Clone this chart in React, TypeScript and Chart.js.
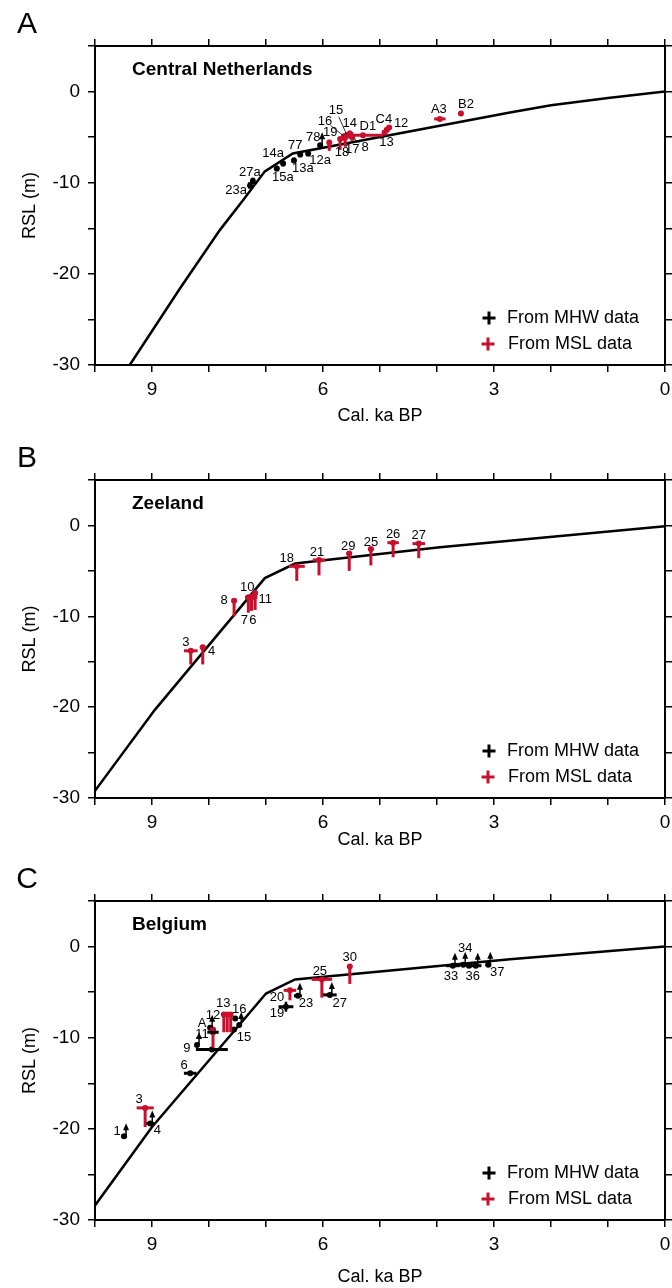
import React, { useEffect, useRef } from 'react';
import { Chart, registerables } from 'chart.js';

Chart.register(...registerables);

const FONT = "'Liberation Sans', Arial, Helvetica, sans-serif";
const RED = '#c8102e';
const BLACK = '#000000';

// ---- axes ----
const X_MIN = 0;
const X_MAX = 10;
const X_LABELED_TICKS = [9, 6, 3, 0];
const Y_MIN = -30;
const Y_MAX = 5;
const Y_LABELED_TICKS = [0, -10, -20, -30];
const X_TITLE = 'Cal. ka BP';
const Y_TITLE = 'RSL (m)';
const LEGEND_MHW = 'From MHW data';
const LEGEND_MSL = 'From MSL data';

// point tuples: [label, age (ka), RSL (m), age error (ka), depth error below (m), depth error above (m)]
type MslPoint = [string, number, number, number, number, number];
// MHW tuples add a last flag: 1 = limiting (arrow up)
type MhwPoint = [string, number, number, number, number, number, number];

// ---- Panel A: Central Netherlands ----
const A_TITLE = 'Central Netherlands';
const A_CURVE_AGE = [9.39, 8.51, 7.81, 7.4, 7.02, 6.53, 2.72, 2.0, 1.0, 0];
const A_CURVE_RSL = [-30, -21.6, -15.2, -11.9, -8.75, -6.8, -2.3, -1.5, -0.7, 0];
const A_MSL: MslPoint[] = [
  ['19', 5.89, -5.6, 0.02, 0.9, 0.2],
  ['18', 5.7, -5.2, 0.03, 1.2, 0],
  ['17', 5.61, -5.05, 0.03, 1.0, 0],
  ['16', 5.63, -4.9, 0.05, 0.5, 0],
  ['15', 5.58, -4.8, 0.05, 0.4, 0],
  ['14', 5.53, -4.6, 0.06, 0.4, 0.2],
  ['8', 5.49, -5.0, 0.05, 0.4, 0],
  ['D1', 5.3, -4.8, 0.35, 0.3, 0.1],
  ['13', 4.92, -4.5, 0.04, 0.3, 0],
  ['C4', 4.88, -4.2, 0.05, 0.3, 0.1],
  ['12', 4.84, -3.95, 0.04, 0.2, 0],
  ['A3', 3.95, -3.0, 0.1, 0.2, 0],
  ['B2', 3.58, -2.4, 0.02, 0.1, 0.1],
];
const A_MHW: MhwPoint[] = [
  ['23a', 7.28, -10.3, 0, 0.35, 0.35, 0],
  ['27a', 7.23, -9.8, 0, 0.35, 0.35, 0],
  ['15a', 6.81, -8.45, 0, 0.3, 0.3, 0],
  ['14a', 6.7, -7.9, 0, 0.3, 0.3, 0],
  ['13a', 6.51, -7.55, 0, 0.3, 0.3, 0],
  ['77', 6.4, -6.9, 0, 0.3, 0.3, 0],
  ['12a', 6.26, -6.8, 0, 0.3, 0.3, 0],
  ['78', 6.05, -5.9, 0.04, 0, 0, 1],
];
const A_LABEL_OFFSETS: Record<string, [number, number]> = {
  '19': [1, -10], '18': [2, 13], '17': [7, 12], '16': [-19, -15], '15': [-11, -25],
  '14': [0, -10], '8': [13, 10], 'D1': [5, -9], '13': [2, 10], 'C4': [-3, -10],
  '12': [12, -4], 'A3': [-1, -9], 'B2': [5, -9],
  '23a': [-14, 5], '27a': [-3, -8], '15a': [6, 9], '14a': [-10, -10], '13a': [9, 8],
  '77': [-5, -9], '12a': [12, 7], '78': [-7, -8],
};
const A_LEADERS = ['15', '16', '8'];

// ---- Panel B: Zeeland ----
const B_TITLE = 'Zeeland';
const B_CURVE_AGE = [10, 8.95, 7.02, 6.49, 3.95, 0];
const B_CURVE_RSL = [-29.2, -20.3, -5.8, -4.2, -2.4, -0.1];
const B_MSL: MslPoint[] = [
  ['3', 8.32, -13.8, 0.12, 1.5, 0],
  ['4', 8.11, -13.4, 0.05, 1.9, 0],
  ['8', 7.56, -8.3, 0.04, 1.7, 0],
  ['7', 7.31, -7.9, 0.02, 1.7, 0],
  ['10', 7.26, -7.9, 0.11, 1.5, 0],
  ['6', 7.25, -7.9, 0.02, 1.45, 0],
  ['11', 7.19, -7.45, 0.05, 1.85, 0],
  ['18', 6.46, -4.5, 0.14, 1.6, 0],
  ['21', 6.07, -3.8, 0.11, 1.7, 0],
  ['29', 5.54, -3.1, 0.05, 1.9, 0],
  ['25', 5.16, -2.6, 0.05, 1.8, 0],
  ['26', 4.77, -1.9, 0.1, 1.6, 0],
  ['27', 4.32, -2.0, 0.11, 1.6, 0],
];
const B_MHW: MhwPoint[] = [];
const B_LABEL_OFFSETS: Record<string, [number, number]> = {
  '3': [-5, -8], '4': [9, 4], '8': [-10, 0], '7': [-4, 23], '10': [-4, -10], '6': [1, 23],
  '11': [10, 6], '18': [-10, -8], '21': [-2, -8], '29': [-1, -7], '25': [0, -7],
  '26': [0, -8], '27': [0, -8],
};
const B_LEADERS: string[] = [];

// ---- Panel C: Belgium ----
const C_TITLE = 'Belgium';
const C_CURVE_AGE = [10, 9.0, 7.51, 7.0, 6.49, 2.72, 0];
const C_CURVE_RSL = [-28.4, -19.8, -8.9, -5.15, -3.6, -1.4, 0];
const C_MSL: MslPoint[] = [
  ['3', 9.12, -17.7, 0.15, 2.1, 0],
  ['12', 7.93, -9.1, 0.05, 2.0, 0],
  ['', 7.74, -7.45, 0.02, 1.95, 0],
  ['13', 7.68, -7.45, 0.09, 1.95, 0],
  ['', 7.62, -7.45, 0.02, 1.95, 0],
  ['20', 6.58, -4.8, 0.11, 1.1, 0],
  ['25', 6.02, -3.6, 0.18, 2.0, 0],
  ['30', 5.53, -2.2, 0.04, 1.9, 0],
];
const C_MHW: MhwPoint[] = [
  ['1', 9.49, -20.8, 0.05, 0, 0, 1],
  ['4', 9.03, -19.4, 0.07, 0, 0, 1],
  ['6', 8.33, -13.9, 0.11, 0, 0, 0],
  ['', 8.21, -10.8, 0, 0, 0, 1],
  ['9', 7.95, -11.3, 0.28, 0, 0, 0],
  ['11', 7.93, -9.4, 0.1, 0, 0, 0],
  ['A', 7.98, -8.9, 0, 0, 0, 1],
  ['16', 7.54, -7.9, 0, 0, 0, 0],
  ['', 7.47, -8.6, 0, 0, 0, 1],
  ['15', 7.56, -9.1, 0, 0, 0, 0],
  ['19', 6.65, -6.6, 0.13, 0.55, 0.55, 0],
  ['23', 6.44, -5.4, 0.07, 0, 0, 1],
  ['27', 5.88, -5.3, 0.12, 0, 0, 1],
  ['33', 3.72, -2.1, 0.12, 0, 0, 1],
  ['34', 3.54, -2.0, 0.1, 0, 0, 1],
  ['', 3.44, -2.1, 0.05, 0, 0, 0],
  ['36', 3.32, -2.1, 0.1, 0, 0, 1],
  ['37', 3.1, -2.0, 0.05, 0, 0, 1],
];
const C_LABEL_OFFSETS: Record<string, [number, number]> = {
  '3': [-6, -8], '12': [0, -14], '13': [-4, -11], '20': [-13, 7], '25': [-2, -8], '30': [0, -9],
  '1': [-7, -5], '4': [7, 7], '6': [-6, -8], '9': [-25, -1], '11': [-11, 2], 'A': [-8, -4],
  '16': [4, -9], '15': [10, 8], '19': [-9, 7], '23': [8, 8], '27': [10, 9],
  '33': [-2, 11], '34': [2, -16], '36': [-3, 11], '37': [9, 8],
};
const C_LEADERS: string[] = [];

interface PanelCfg {
  letter: string;
  title: string;
  curveAge: number[];
  curveRsl: number[];
  msl: MslPoint[];
  mhw: MhwPoint[];
  offsets: Record<string, [number, number]>;
  leaders: string[];
  top: number;
  height: number;
  xTitlePad: number;
}

const PANELS: PanelCfg[] = [
  { letter: 'A', title: A_TITLE, curveAge: A_CURVE_AGE, curveRsl: A_CURVE_RSL, msl: A_MSL, mhw: A_MHW, offsets: A_LABEL_OFFSETS, leaders: A_LEADERS, top: 0, height: 433, xTitlePad: 6 },
  { letter: 'B', title: B_TITLE, curveAge: B_CURVE_AGE, curveRsl: B_CURVE_RSL, msl: B_MSL, mhw: B_MHW, offsets: B_LABEL_OFFSETS, leaders: B_LEADERS, top: 434, height: 432, xTitlePad: 15 },
  { letter: 'C', title: C_TITLE, curveAge: C_CURVE_AGE, curveRsl: C_CURVE_RSL, msl: C_MSL, mhw: C_MHW, offsets: C_LABEL_OFFSETS, leaders: C_LEADERS, top: 855, height: 433, xTitlePad: 0 },
];

function makeAnnotationPlugin(p: PanelCfg) {
  return {
    id: 'annot' + p.letter,
    afterDatasetsDraw(chart: any) {
      const { ctx, chartArea: ca } = chart;
      const xs = chart.scales.x;
      const ys = chart.scales.y;
      const X = (v: number) => xs.getPixelForValue(v);
      const Y = (v: number) => ys.getPixelForValue(v);
      const seg = (x1: number, y1: number, x2: number, y2: number) => {
        ctx.beginPath();
        ctx.moveTo(x1, y1);
        ctx.lineTo(x2, y2);
        ctx.stroke();
      };
      ctx.save();
      ctx.lineCap = 'butt';

      // MSL error bars (red T marks)
      ctx.strokeStyle = RED;
      for (const [, age, rsl, ae, dn, up] of p.msl) {
        ctx.lineWidth = 3;
        seg(X(age), Y(rsl + up) - 1, X(age), Y(rsl - dn));
        if (ae > 0) seg(X(age + ae), Y(rsl), X(age - ae), Y(rsl));
      }

      // MHW marks (black)
      ctx.strokeStyle = BLACK;
      ctx.fillStyle = BLACK;
      for (const [, age, rsl, ae, dn, up, arrow] of p.mhw) {
        const px = X(age);
        const py = Y(rsl);
        ctx.lineWidth = 3;
        if (ae > 0) seg(X(age + ae), py, X(age - ae), py);
        if (dn > 0 || up > 0) {
          ctx.lineWidth = up + dn > 0.8 ? 2.5 : 4;
          seg(px, Y(rsl + up), px, Y(rsl - dn));
        }
        if (arrow) {
          const ax = px + 2;
          ctx.lineWidth = 1.5;
          seg(ax, py, ax, py - 7);
          ctx.beginPath();
          ctx.moveTo(ax, py - 13);
          ctx.lineTo(ax - 3, py - 6);
          ctx.lineTo(ax + 3, py - 6);
          ctx.closePath();
          ctx.fill();
        }
      }

      // point labels
      ctx.fillStyle = BLACK;
      ctx.font = `13px ${FONT}`;
      ctx.textAlign = 'center';
      ctx.textBaseline = 'middle';
      const all: [string, number, number][] = [
        ...p.msl.map((m) => [m[0], m[1], m[2]] as [string, number, number]),
        ...p.mhw.map((m) => [m[0], m[1], m[2]] as [string, number, number]),
      ];
      for (const [lab, age, rsl] of all) {
        if (!lab) continue;
        const off = p.offsets[lab] || [0, -10];
        const lx = X(age) + off[0];
        const ly = Y(rsl) + off[1];
        ctx.fillText(lab, lx, ly);
        if (p.leaders.includes(lab)) {
          const mx = X(age);
          const my = Y(rsl);
          const dx = mx - lx;
          const dy = my - ly;
          const d = Math.hypot(dx, dy);
          ctx.strokeStyle = BLACK;
          ctx.lineWidth = 0.8;
          seg(lx + (dx / d) * 7, ly + (dy / d) * 7, mx - (dx / d) * 1, my - (dy / d) * 1);
        }
      }

      // legend
      const plus = (cx: number, cy: number, color: string) => {
        ctx.strokeStyle = color;
        ctx.lineWidth = 3;
        seg(cx - 6.5, cy, cx + 6.5, cy);
        seg(cx, cy - 6.5, cx, cy + 6.5);
      };
      const l1 = ca.bottom - 47;
      const l2 = ca.bottom - 21;
      plus(ca.right - 176, l1, BLACK);
      plus(ca.right - 177, l2, RED);
      ctx.fillStyle = BLACK;
      ctx.font = `18px ${FONT}`;
      ctx.textAlign = 'left';
      ctx.textBaseline = 'middle';
      ctx.fillText(LEGEND_MHW, ca.right - 158, l1);
      ctx.fillText(LEGEND_MSL, ca.right - 157, l2);

      // panel title
      ctx.font = `bold 19px ${FONT}`;
      ctx.fillText(p.title, 132, ca.top + 24);

      // panel letter
      ctx.font = `30px ${FONT}`;
      ctx.textAlign = 'center';
      ctx.fillText(p.letter, 27, ca.top - 21);

      ctx.restore();
    },
  };
}

function makeConfig(p: PanelCfg): any {
  const grid = { drawOnChartArea: false, drawTicks: true, tickLength: 7, color: BLACK, lineWidth: 1.5 };
  const border = { display: true, color: BLACK, width: 2 };
  const tickFont = { family: FONT, size: 19 };
  const titleFont = { family: FONT, size: 18 };
  const noPadH = (s: any) => { s.paddingLeft = 0; s.paddingRight = 0; };
  const noPadV = (s: any) => { s.paddingTop = 0; s.paddingBottom = 0; };
  return {
    type: 'scatter',
    data: {
      datasets: [
        {
          label: 'MSL',
          data: p.msl.map((m) => ({ x: m[1], y: m[2] })),
          pointRadius: 3,
          pointBackgroundColor: RED,
          pointBorderWidth: 0,
        },
        {
          label: 'MHW',
          data: p.mhw.map((m) => ({ x: m[1], y: m[2] })),
          pointRadius: 3,
          pointBackgroundColor: BLACK,
          pointBorderWidth: 0,
        },
        {
          type: 'line',
          label: 'RSL curve',
          data: p.curveAge.map((a, i) => ({ x: a, y: p.curveRsl[i] })),
          borderColor: BLACK,
          borderWidth: 2.5,
          pointRadius: 0,
          fill: false,
          tension: 0,
        },
      ],
    },
    options: {
      responsive: false,
      maintainAspectRatio: false,
      animation: false,
      devicePixelRatio: 1,
      layout: { padding: { top: 36, right: 0, bottom: 0, left: 0 } },
      plugins: { legend: { display: false }, tooltip: { enabled: false } },
      events: [],
      scales: {
        x: {
          type: 'linear',
          position: 'bottom',
          min: X_MIN,
          max: X_MAX,
          reverse: true,
          ticks: {
            stepSize: 1,
            autoSkip: false,
            maxRotation: 0,
            minRotation: 0,
            padding: 6,
            color: BLACK,
            font: tickFont,
            callback: (v: number) => (X_LABELED_TICKS.includes(v) ? String(v) : ''),
          },
          grid,
          border,
          title: { display: true, text: X_TITLE, color: BLACK, font: titleFont, padding: { top: 0, bottom: p.xTitlePad } },
          afterFit: (s: any) => { s.height = 68; noPadH(s); },
        },
        x2: {
          type: 'linear',
          position: 'top',
          min: X_MIN,
          max: X_MAX,
          reverse: true,
          ticks: { stepSize: 1, autoSkip: false, display: false },
          grid,
          border,
          afterFit: (s: any) => { s.height = 10; noPadH(s); },
        },
        y: {
          type: 'linear',
          position: 'left',
          min: Y_MIN,
          max: Y_MAX,
          ticks: {
            stepSize: 5,
            autoSkip: false,
            padding: 8,
            color: BLACK,
            font: tickFont,
            callback: (v: number) => (Y_LABELED_TICKS.includes(v) ? String(v) : ''),
          },
          grid,
          border,
          title: { display: true, text: Y_TITLE, color: BLACK, font: titleFont, padding: { top: 19, bottom: 0 } },
          afterFit: (s: any) => { s.width = 95; noPadV(s); },
        },
        y2: {
          type: 'linear',
          position: 'right',
          min: Y_MIN,
          max: Y_MAX,
          ticks: { stepSize: 5, autoSkip: false, display: false },
          grid,
          border,
          afterFit: (s: any) => { s.width = 7; noPadV(s); },
        },
      },
    },
    plugins: [makeAnnotationPlugin(p)],
  };
}

function Panel({ cfg }: { cfg: PanelCfg }) {
  const ref = useRef<HTMLCanvasElement>(null);
  useEffect(() => {
    if (!ref.current) return;
    const chart = new Chart(ref.current, makeConfig(cfg));
    return () => chart.destroy();
  }, [cfg]);
  return (
    <canvas
      ref={ref}
      width={672}
      height={cfg.height}
      style={{ position: 'absolute', left: 0, top: cfg.top, width: 672, height: cfg.height, display: 'block' }}
    />
  );
}

export default function App() {
  return (
    <div style={{ position: 'absolute', left: 0, top: 0, width: 672, height: 1288, overflow: 'hidden', background: '#fff' }}>
      {PANELS.map((p) => (
        <Panel key={p.letter} cfg={p} />
      ))}
    </div>
  );
}
